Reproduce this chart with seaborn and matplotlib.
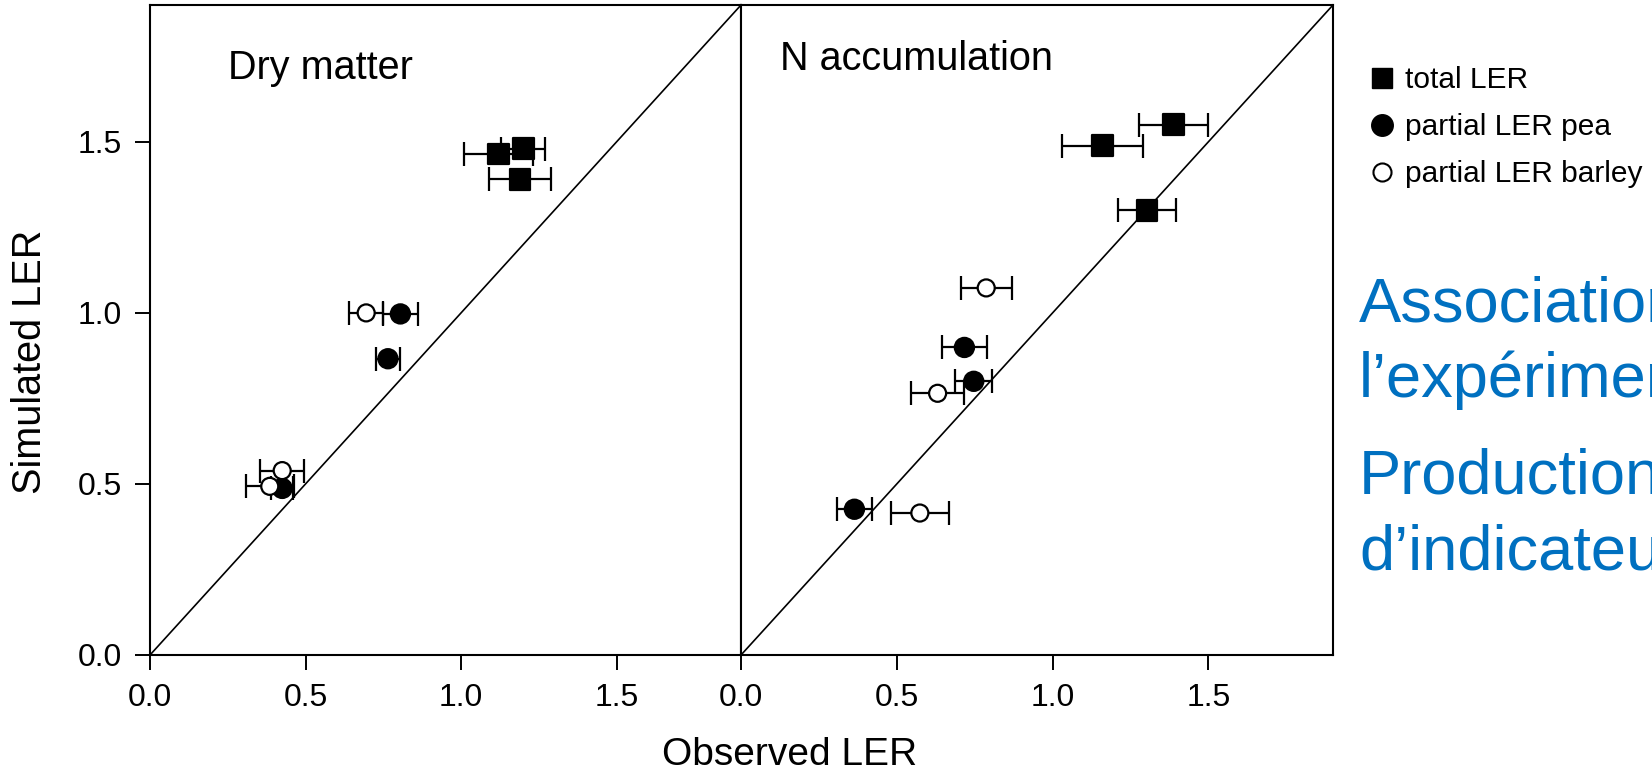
import matplotlib
matplotlib.use("Agg")
import matplotlib.pyplot as plt
from matplotlib.lines import Line2D
import pandas as pd
import seaborn as sns

# Land equivalent ratio of pea-barley intercrops: observed vs simulated
groups = ["total LER", "partial LER pea", "partial LER barley"]
panels = ["Dry matter", "N accumulation"]

# Dry matter
dm_total_obs = [1.12, 1.20, 1.19]
dm_total_sim = [1.465, 1.48, 1.39]
dm_total_err = [0.11, 0.07, 0.10]
dm_pea_obs = [0.805, 0.765, 0.425]
dm_pea_sim = [0.997, 0.866, 0.487]
dm_pea_err = [0.055, 0.04, 0.035]
dm_barley_obs = [0.695, 0.385, 0.425]
dm_barley_sim = [1.00, 0.493, 0.539]
dm_barley_err = [0.055, 0.077, 0.07]

# N accumulation
n_total_obs = [1.388, 1.161, 1.303]
n_total_sim = [1.55, 1.489, 1.30]
n_total_err = [0.11, 0.13, 0.092]
n_pea_obs = [0.717, 0.747, 0.364]
n_pea_sim = [0.899, 0.80, 0.426]
n_pea_err = [0.073, 0.059, 0.057]
n_barley_obs = [0.787, 0.631, 0.574]
n_barley_sim = [1.073, 0.765, 0.415]
n_barley_err = [0.082, 0.085, 0.092]

tick_values = [0.0, 0.5, 1.0, 1.5]
tick_labels = ["0.0", "0.5", "1.0", "1.5"]
axis_max = 1.9

side_lines = [
    ("Association", 321),
    ("l’expérimentation", 397),
    ("Production", 493),
    ("d’indicateurs", 569),
]

series = {
    ("Dry matter", "total LER"): (dm_total_obs, dm_total_sim, dm_total_err),
    ("Dry matter", "partial LER pea"): (dm_pea_obs, dm_pea_sim, dm_pea_err),
    ("Dry matter", "partial LER barley"): (dm_barley_obs, dm_barley_sim, dm_barley_err),
    ("N accumulation", "total LER"): (n_total_obs, n_total_sim, n_total_err),
    ("N accumulation", "partial LER pea"): (n_pea_obs, n_pea_sim, n_pea_err),
    ("N accumulation", "partial LER barley"): (n_barley_obs, n_barley_sim, n_barley_err),
}
rows = []
for (panel, group), (obs, sim, err) in series.items():
    for o, s, e in zip(obs, sim, err):
        rows.append({"panel": panel, "group": group, "obs": o, "sim": s, "err": e})
df = pd.DataFrame(rows)

sns.set_theme(style="ticks", rc={
    "axes.edgecolor": "black", "xtick.color": "black", "ytick.color": "black",
    "text.color": "black", "axes.labelcolor": "black",
})
plt.rcParams["font.family"] = ["Liberation Sans", "DejaVu Sans"]

marker_map = {"total LER": "s", "partial LER pea": "o", "partial LER barley": "o"}
face_map = {"total LER": "black", "partial LER pea": "black", "partial LER barley": "white"}
size_map = {"total LER": 220, "partial LER pea": 190, "partial LER barley": 150}

W, H = 1652, 770
fig = plt.figure(figsize=(W / 100, H / 100), dpi=100)
ax_left = fig.add_axes([150 / W, 115 / H, 591 / W, 650 / H])
ax_right = fig.add_axes([741 / W, 115 / H, 592 / W, 650 / H])

title_pos = {"Dry matter": (0.252, 1.684), "N accumulation": (0.126, 1.71)}

for ax, panel in zip([ax_left, ax_right], panels):
    sub = df[df["panel"] == panel]
    ax.axline((0, 0), (1, 1), color="black", lw=1.2, zorder=1)
    for g in groups:
        gd = sub[sub["group"] == g]
        ax.errorbar(gd["obs"], gd["sim"], xerr=gd["err"], fmt="none",
                    ecolor="black", elinewidth=1.6, capsize=8.3, capthick=1.6,
                    zorder=2)
    sns.scatterplot(data=sub, x="obs", y="sim", hue="group", style="group",
                    size="group", hue_order=groups, style_order=groups,
                    size_order=groups, palette=face_map, markers=marker_map,
                    sizes=size_map, edgecolor="black", linewidth=1.6,
                    legend=False, ax=ax, zorder=3)
    ax.set_xlim(0, axis_max)
    ax.set_ylim(0, axis_max)
    ax.set_xticks(tick_values)
    ax.set_xticklabels(tick_labels)
    ax.set_yticks(tick_values)
    ax.set_yticklabels(tick_labels)
    ax.set_xlabel("")
    ax.set_ylabel("")
    for sp in ax.spines.values():
        sp.set_visible(True)
        sp.set_linewidth(1.5)
        sp.set_color("black")
    ax.tick_params(direction="out", length=10.5, width=1.4, labelsize=23,
                   pad=10)
    tx, ty = title_pos[panel]
    ax.text(tx, ty, panel, fontsize=28.5, ha="left", va="baseline")

ax_right.tick_params(axis="y", left=False, labelleft=False)

fig.text(790 / W, 1 - 765 / H, "Observed LER", ha="center", va="baseline",
         fontsize=28)
fig.text(30 / W, 1 - 362 / H, "Simulated LER", ha="center", va="center",
         rotation=90, fontsize=28.5)

handles = [
    Line2D([], [], ls="none", marker="s", markersize=15, markerfacecolor="black",
           markeredgecolor="black"),
    Line2D([], [], ls="none", marker="o", markersize=15.5, markerfacecolor="black",
           markeredgecolor="black"),
    Line2D([], [], ls="none", marker="o", markersize=13, markerfacecolor="white",
           markeredgecolor="black", markeredgewidth=1.5),
]
fig.legend(handles, groups, loc="upper left",
           bbox_to_anchor=(1370.6 / W, 1 - 66 / H), frameon=False,
           fontsize=21.5, handlelength=0.78, handletextpad=0.38,
           labelspacing=0.64, borderpad=0, borderaxespad=0)

for text, baseline in side_lines:
    fig.text(1359 / W, 1 - baseline / H, text, color="#0070C0", fontsize=45.5,
             ha="left", va="baseline")

fig.savefig("out.png", dpi=100)
